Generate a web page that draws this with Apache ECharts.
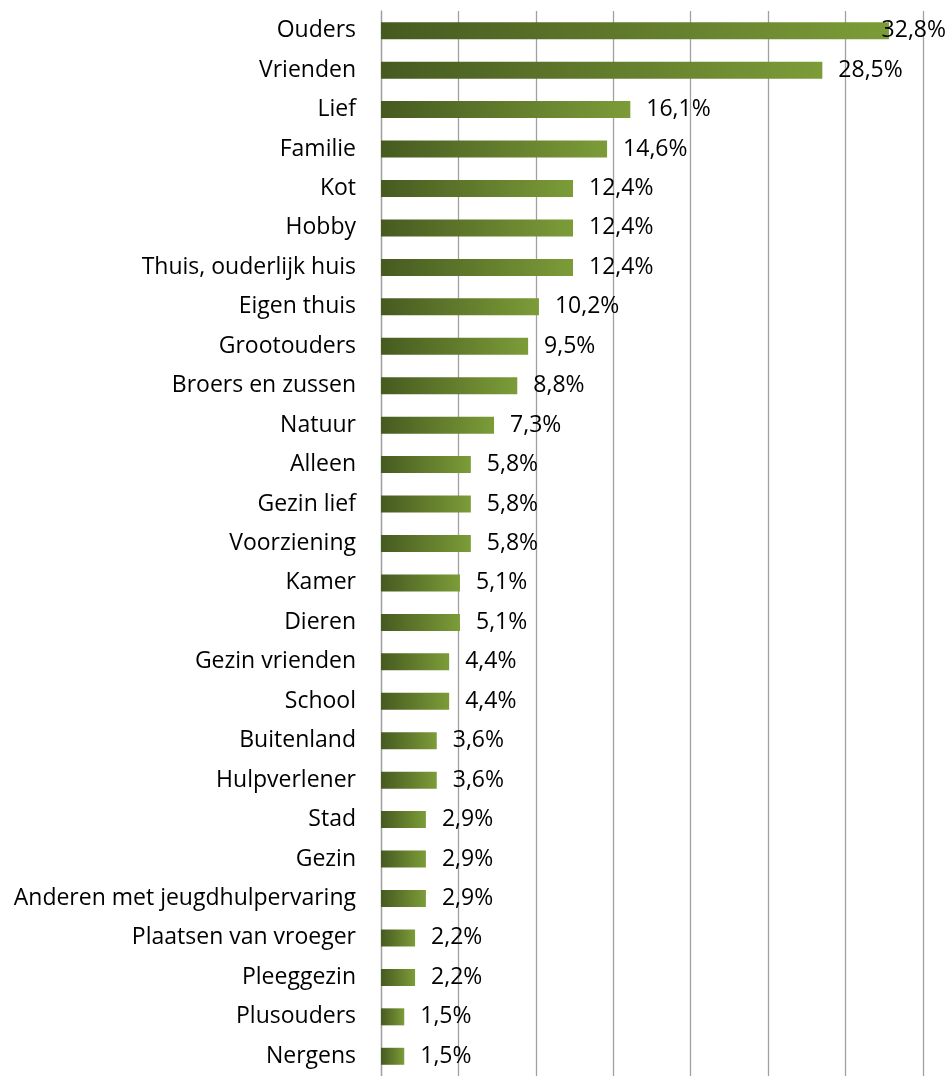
<!DOCTYPE html>
<html>
<head>
<meta charset="utf-8">
<script src="https://cdn.jsdelivr.net/npm/echarts@6/dist/echarts.min.js"></script>
<style>
  html, body { margin: 0; padding: 0; background: #fff; }
  #chart { width: 948px; height: 1076px; }
</style>
</head>
<body>
<div id="chart"></div>
<script>
const categories = ['Ouders', 'Vrienden', 'Lief', 'Familie', 'Kot', 'Hobby', 'Thuis, ouderlijk huis',
  'Eigen thuis', 'Grootouders', 'Broers en zussen', 'Natuur', 'Alleen', 'Gezin lief', 'Voorziening',
  'Kamer', 'Dieren', 'Gezin vrienden', 'School', 'Buitenland', 'Hulpverlener', 'Stad', 'Gezin',
  'Anderen met jeugdhulpervaring', 'Plaatsen van vroeger', 'Pleeggezin', 'Plusouders', 'Nergens']
const values = [32.8, 28.5, 16.1, 14.6, 12.4, 12.4, 12.4, 10.2, 9.5, 8.8, 7.3, 5.8, 5.8, 5.8,
  5.1, 5.1, 4.4, 4.4, 3.6, 3.6, 2.9, 2.9, 2.9, 2.2, 2.2, 1.5, 1.5]

const chart = echarts.init(document.getElementById('chart'))
chart.setOption({
  animation: false,
  grid: { left: 381, right: 25, top: 11, height: 1069 },
  xAxis: {
    type: 'value',
    min: 0,
    max: 35,
    interval: 5,
    axisLabel: { show: false },
    axisLine: { show: false },
    axisTick: { show: false },
    splitLine: { lineStyle: { color: '#a0a0a0', width: 1.3 } }
  },
  yAxis: {
    type: 'category',
    inverse: true,
    data: categories,
    axisLine: { lineStyle: { color: '#a0a0a0', width: 1.3 } },
    axisTick: { length: 9, lineStyle: { color: '#a0a0a0' } },
    axisLabel: {
      margin: 25,
      color: '#000',
      fontFamily: 'Open Sans',
      fontSize: 23,
      padding: [4, 0, 0, 0]
    }
  },
  series: [{
    type: 'bar',
    data: values,
    barWidth: 17,
    itemStyle: {
      color: new echarts.graphic.LinearGradient(0, 0, 1, 0, [
        { offset: 0, color: '#465a20' },
        { offset: 1, color: '#7c9c38' }
      ])
    },
    label: {
      show: true,
      position: 'right',
      distance: 16,
      color: '#000',
      fontFamily: 'Open Sans',
      fontSize: 23,
      padding: [4, 0, 0, 0],
      formatter: (p) => p.value.toFixed(1).replace('.', ',') + '%'
    },
    labelLayout: (params) => {
      const r = params.labelRect
      if (r.x + r.width > 946) return { dx: 946 - (r.x + r.width) }
    }
  }]
})
</script>
</body>
</html>
